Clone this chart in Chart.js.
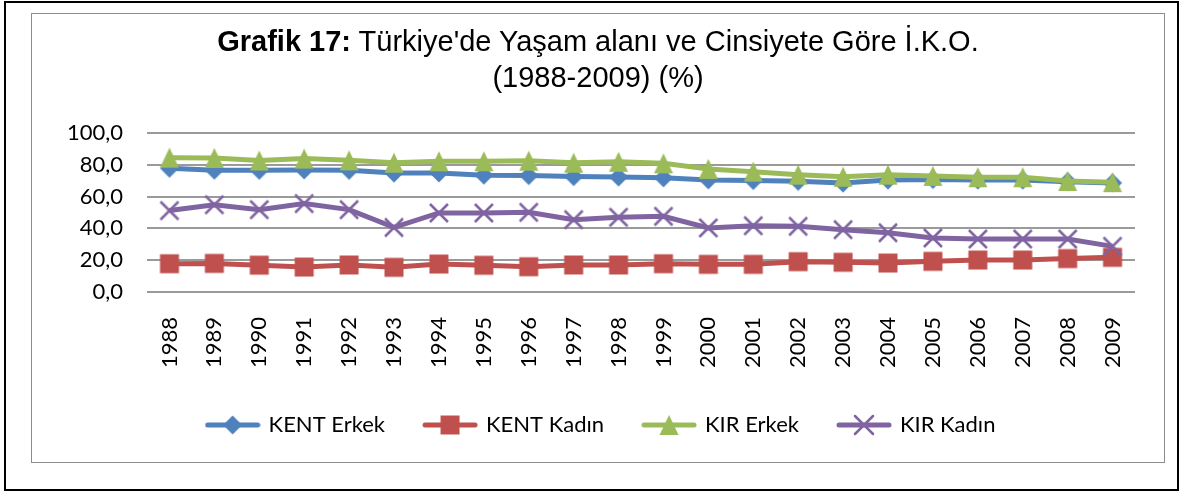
<!DOCTYPE html>
<html>
<head>
<meta charset="utf-8">
<script src="https://cdn.jsdelivr.net/npm/chart.js@4.4.0/dist/chart.umd.min.js"></script>
<style>
  body { margin: 0; background: #fff; }
  #wrap { position: relative; width: 1189px; height: 495px; overflow: hidden; }
  #outer { position: absolute; left: 4px; top: 1px; width: 1171px; height: 486px; border: 2px solid #000; }
  #inner { position: absolute; left: 31px; top: 13px; width: 1132px; height: 448px; border: 1px solid #8c8c8c; }
  #title { position: absolute; left: 31px; width: 1134px; top: 23px; text-align: center;
           font-family: "Liberation Sans", Arial, sans-serif; font-size: 29px; line-height: 36px; color: #000; z-index: 2; }
  canvas { position: absolute; left: 0; top: 0; z-index: 1; }
</style>
</head>
<body>
<div id="wrap">
  <div id="outer"></div>
  <div id="inner"></div>
  <canvas id="lineChart" width="1189" height="495"></canvas>
  <div id="title"><b>Grafik 17:</b> Türkiye'de Yaşam alanı ve Cinsiyete Göre İ.K.O.<br>(1988-2009) (%)</div>
</div>
<script>
const years = ['1988', '1989', '1990', '1991', '1992', '1993', '1994', '1995', '1996', '1997', '1998',
               '1999', '2000', '2001', '2002', '2003', '2004', '2005', '2006', '2007', '2008', '2009'];

const kentErkek = [77.8, 76.6, 76.5, 76.8, 76.5, 74.8, 74.9, 73.5, 73.2, 72.6, 72.3,
                   71.8, 70.5, 70.1, 69.6, 68.5, 70.4, 70.8, 70.4, 70.4, 69.4, 68.6];
const kentKadin = [17.8, 18.0, 16.9, 15.7, 17.0, 15.5, 17.6, 16.8, 15.9, 17.0, 17.0,
                   17.8, 17.4, 17.4, 19.1, 18.7, 18.2, 19.3, 20.1, 20.1, 21.0, 21.8];
const kirErkek = [84.5, 84.3, 82.7, 83.9, 82.8, 81.3, 82.2, 82.2, 82.6, 81.3, 81.9,
                  80.9, 77.4, 75.7, 73.8, 72.5, 73.8, 73.0, 72.2, 72.2, 69.8, 69.1];
const kirKadin = [51.2, 54.9, 51.8, 55.6, 51.8, 40.6, 49.7, 49.7, 50.1, 45.5, 47.0,
                  47.6, 40.3, 41.7, 41.3, 39.2, 37.3, 34.0, 33.3, 33.3, 33.3, 28.7];

const seriesNames = ['KENT Erkek', 'KENT Kadın', 'KIR Erkek', 'KIR Kadın'];
const yTicks = [0, 20, 40, 60, 80, 100];

const blue = '#4F81BD', red = '#C0504D', green = '#9BBB59', purple = '#8064A2';
const tickFont = { family: 'Lato', size: 22 };

// marker shapes drawn on small canvases (Excel style markers)
function shape(g, kind, cx, cy, color) {
    g.fillStyle = color;
    g.strokeStyle = color;
    g.beginPath();
    if (kind === 'diamond') {
        g.moveTo(cx, cy - 9.5); g.lineTo(cx + 9.5, cy); g.lineTo(cx, cy + 9.5); g.lineTo(cx - 9.5, cy);
        g.closePath(); g.fill();
    } else if (kind === 'square') {
        g.rect(cx - 9.5, cy - 9.5, 19, 19); g.fill();
    } else if (kind === 'triangle') {
        g.moveTo(cx, cy - 10); g.lineTo(cx + 9.5, cy + 10); g.lineTo(cx - 9.5, cy + 10);
        g.closePath(); g.fill();
    } else {
        g.lineWidth = 2.5;
        g.moveTo(cx - 9, cy - 9); g.lineTo(cx + 9, cy + 9);
        g.moveTo(cx + 9, cy - 9); g.lineTo(cx - 9, cy + 9);
        g.stroke();
    }
}

function marker(kind, color) {
    const c = document.createElement('canvas');
    c.width = 22; c.height = 22;
    shape(c.getContext('2d'), kind, 11, 11, color);
    return c;
}

function legendIcon(kind, color) {
    const c = document.createElement('canvas');
    c.width = 56; c.height = 22;
    const g = c.getContext('2d');
    g.strokeStyle = color;
    g.lineWidth = 5;
    g.lineCap = 'round';
    g.beginPath(); g.moveTo(3, 11); g.lineTo(53, 11); g.stroke();
    shape(g, kind, 28, 11, color);
    return c;
}

const kinds = ['diamond', 'square', 'triangle', 'cross'];
const colors = [blue, red, green, purple];
const values = [kentErkek, kentKadin, kirErkek, kirKadin];
const icons = kinds.map((k, i) => legendIcon(k, colors[i]));

const datasets = seriesNames.map((name, i) => ({
    label: name,
    data: values[i],
    borderColor: colors[i],
    backgroundColor: colors[i],
    borderWidth: 5,
    pointStyle: marker(kinds[i], colors[i]),
    pointRadius: 9,
    pointBorderWidth: 0,
    tension: 0,
    order: 4 - i
}));

const ctx = document.getElementById('lineChart').getContext('2d');

const lineChart = new Chart(ctx, {
    type: 'line',
    data: {
        labels: years,
        datasets: datasets
    },
    options: {
        responsive: false,
        animation: false,
        devicePixelRatio: 1,
        layout: {
            padding: { top: 133, left: 68, right: 54, bottom: 49 }
        },
        plugins: {
            title: { display: false },
            tooltip: { enabled: false },
            legend: {
                position: 'bottom',
                labels: {
                    color: '#000',
                    font: tickFont,
                    usePointStyle: true,
                    pointStyleWidth: 50,
                    padding: 40,
                    sort: (a, b) => a.datasetIndex - b.datasetIndex,
                    generateLabels(chart) {
                        const items = Chart.defaults.plugins.legend.labels.generateLabels(chart);
                        items.forEach(it => { it.pointStyle = icons[it.datasetIndex]; });
                        return items;
                    }
                }
            }
        },
        scales: {
            x: {
                offset: true,
                grid: { display: false, drawTicks: false },
                border: { display: false },
                ticks: {
                    color: '#000',
                    font: tickFont,
                    minRotation: 90,
                    maxRotation: 90,
                    padding: 25
                },
                afterFit(scale) { scale.height = 82; }
            },
            y: {
                min: 0,
                max: 100,
                grid: { color: '#9a9a9a', lineWidth: 2, drawTicks: false },
                border: { display: false },
                afterBuildTicks(scale) { scale.ticks = yTicks.map(v => ({ value: v })); },
                ticks: {
                    color: '#000',
                    font: tickFont,
                    padding: 24,
                    callback: v => v.toFixed(1).replace('.', ',')
                },
                afterFit(scale) { scale.width = 79; }
            }
        }
    }
});
</script>
</body>
</html>
